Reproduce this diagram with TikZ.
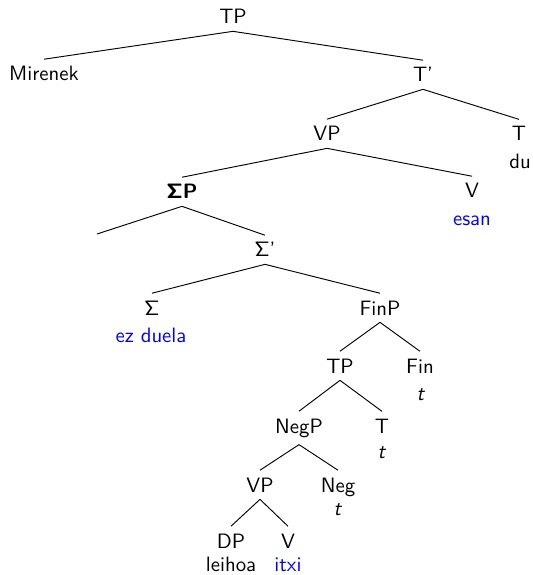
\documentclass[tikz,border=0pt]{standalone}
\usepackage{fontspec}
\begin{document}
\begin{tikzpicture}[x=0.481pt,y=-0.481pt,
  lab/.style={font=\sffamily, anchor=base},
  word/.style={font=\sffamily, anchor=base, inner sep=0pt},
  gloss/.style={word, text=blue},
  edge/.style={line width=0.45pt}]
\useasboundingbox (0,0) rectangle (532,575);
% nodes
\node[lab] (tp) at (233,24) {TP};
\node[lab] (mir) at (44,81) {Mirenek};
\node[lab] (tbar) at (423,82) {T'};
\node[lab] (vp) at (327,141) {VP};
\node[lab] (t1) at (519,141) {T};
\node[word] (du) at (520,169) {du};
\node[lab] (sigp) at (182,199) {\textbf{ΣP}};
\node[lab] (v1) at (472,198) {V};
\node[gloss] (esan) at (472,226) {esan};
\coordinate (empty) at (97,234);
\node[lab] (sigbar) at (265,257) {Σ'};
\node[lab] (sig) at (152,315) {Σ};
\node[gloss] (ezduela) at (151,342) {ez duela};
\node[lab] (finp) at (380,315) {FinP};
\node[lab] (tp2) at (340,373) {TP};
\node[lab] (fin) at (420,373) {Fin};
\node[word] (tfin) at (421,400) {\textit{t}};
\node[lab] (negp) at (299,433) {NegP};
\node[lab] (t2) at (382,433) {T};
\node[word] (tt) at (382,458) {\textit{t}};
\node[lab] (vp2) at (260,492) {VP};
\node[lab] (neg) at (338,492) {Neg};
\node[word] (tneg) at (338,515) {\textit{t}};
\node[lab] (dp) at (231,548) {DP};
\node[word] (leihoa) at (231,571) {leihoa};
\node[lab] (v2) at (288,548) {V};
\node[gloss] (itxi) at (288,571) {itxi};
% edges
\draw[edge] (tp.south) -- (mir.north);
\draw[edge] (tp.south) -- (tbar.north);
\draw[edge] (tbar.south) -- (vp.north);
\draw[edge] (tbar.south) -- (t1.north);
\draw[edge] (vp.south) -- (sigp.north);
\draw[edge] (vp.south) -- (v1.north);
\draw[edge] (sigp.south) -- (empty);
\draw[edge] (sigp.south) -- (sigbar.north);
\draw[edge] (sigbar.south) -- (sig.north);
\draw[edge] (sigbar.south) -- (finp.north);
\draw[edge] (finp.south) -- (tp2.north);
\draw[edge] (finp.south) -- (fin.north);
\draw[edge] (tp2.south) -- (negp.north);
\draw[edge] (tp2.south) -- (t2.north);
\draw[edge] (negp.south) -- (vp2.north);
\draw[edge] (negp.south) -- (neg.north);
\draw[edge] (vp2.south) -- (dp.north);
\draw[edge] (vp2.south) -- (v2.north);
\end{tikzpicture}
\end{document}
